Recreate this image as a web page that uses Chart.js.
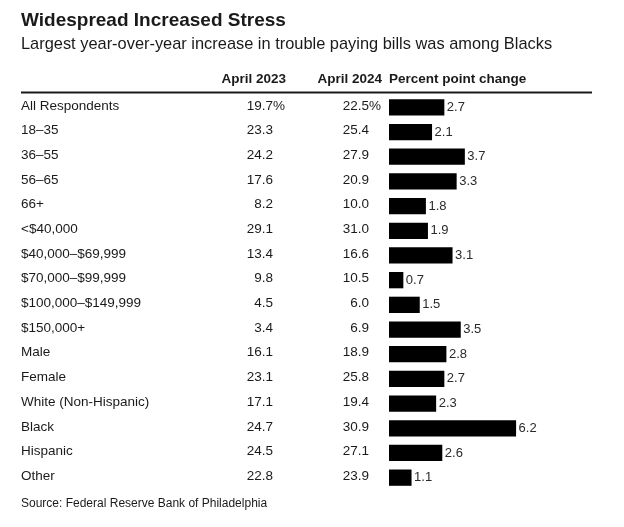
<!DOCTYPE html>
<html>
<head>
<meta charset="utf-8">
<script src="https://cdn.jsdelivr.net/npm/chart.js@4"></script>
<style>
  html, body { margin: 0; padding: 0; background: #fff; }
  #wrap { width: 624px; height: 527px; position: relative; }
</style>
</head>
<body>
<div id="wrap"><canvas id="stressChart"></canvas></div>
<script>
const categories = ["All Respondents", "18\u201335", "36\u201355", "56\u201365", "66+", "<$40,000",
  "$40,000\u2013$69,999", "$70,000\u2013$99,999", "$100,000\u2013$149,999", "$150,000+",
  "Male", "Female", "White (Non-Hispanic)", "Black", "Hispanic", "Other"];
const april2023 = [19.7, 23.3, 24.2, 17.6, 8.2, 29.1, 13.4, 9.8, 4.5, 3.4, 16.1, 23.1, 17.1, 24.7, 24.5, 22.8];
const april2024 = [22.5, 25.4, 27.9, 20.9, 10.0, 31.0, 16.6, 10.5, 6.0, 6.9, 18.9, 25.8, 19.4, 30.9, 27.1, 23.9];
const pointChange = [2.7, 2.1, 3.7, 3.3, 1.8, 1.9, 3.1, 0.7, 1.5, 3.5, 2.8, 2.7, 2.3, 6.2, 2.6, 1.1];

const FONT = '"Liberation Sans", Arial, Helvetica, sans-serif';
const INK = '#1a1a1a';

// draws title, table columns, header rule, value labels and source
const tablePlugin = {
  id: 'tableText',
  afterDatasetsDraw(chart) {
    const ctx = chart.ctx;
    const y = chart.scales.y;
    const x = chart.scales.x;
    ctx.save();
    ctx.fillStyle = INK;
    ctx.textBaseline = 'alphabetic';

    ctx.font = 'bold 19px ' + FONT;
    ctx.textAlign = 'left';
    ctx.fillText('Widespread Increased Stress', 21, 26);
    ctx.font = '16.4px ' + FONT;
    ctx.fillText('Largest year-over-year increase in trouble paying bills was among Blacks', 21, 49);

    ctx.font = 'bold 13.5px ' + FONT;
    ctx.textAlign = 'right';
    ctx.fillText('April 2023', 286, 83);
    ctx.fillText('April 2024', 382, 83);
    ctx.textAlign = 'left';
    ctx.fillText('Percent point change', 389, 83);

    ctx.strokeStyle = INK;
    ctx.lineWidth = 2;
    ctx.beginPath();
    ctx.moveTo(21, 92.5);
    ctx.lineTo(592, 92.5);
    ctx.stroke();

    ctx.textBaseline = 'middle';
    categories.forEach((cat, i) => {
      const cy = y.getPixelForValue(i) - 1.5;
      ctx.font = '13.5px ' + FONT;
      ctx.textAlign = 'left';
      ctx.fillText(cat, 21, cy);
      ctx.textAlign = 'right';
      ctx.fillText(april2023[i].toFixed(1), 273, cy);
      ctx.fillText(april2024[i].toFixed(1), 369, cy);
      if (i === 0) {
        ctx.textAlign = 'left';
        ctx.fillText('%', 273, cy);
        ctx.fillText('%', 369, cy);
      }
      ctx.font = '13px ' + FONT;
      ctx.textAlign = 'left';
      ctx.fillStyle = '#2a2a2a';
      ctx.fillText(pointChange[i].toFixed(1), x.getPixelForValue(pointChange[i]) + 2.5, cy + 1.5);
      ctx.fillStyle = INK;
    });

    ctx.textBaseline = 'alphabetic';
    ctx.font = '12px ' + FONT;
    ctx.textAlign = 'left';
    ctx.fillText('Source: Federal Reserve Bank of Philadelphia', 21, 507);
    ctx.restore();
  }
};

new Chart(document.getElementById('stressChart'), {
  type: 'bar',
  data: {
    labels: categories,
    datasets: [{
      label: 'Percent point change',
      data: pointChange,
      backgroundColor: '#000',
      borderWidth: 0,
      categoryPercentage: 1,
      barPercentage: 0.66
    }]
  },
  options: {
    indexAxis: 'y',
    responsive: true,
    maintainAspectRatio: false,
    animation: false,
    layout: { padding: { left: 389, right: 30, top: 95, bottom: 37 } },
    scales: {
      x: { display: false, min: 0, max: 10 },
      y: { display: false }
    },
    plugins: {
      legend: { display: false },
      tooltip: { enabled: false },
      title: { display: false }
    }
  },
  plugins: [tablePlugin]
});
</script>
</body>
</html>
